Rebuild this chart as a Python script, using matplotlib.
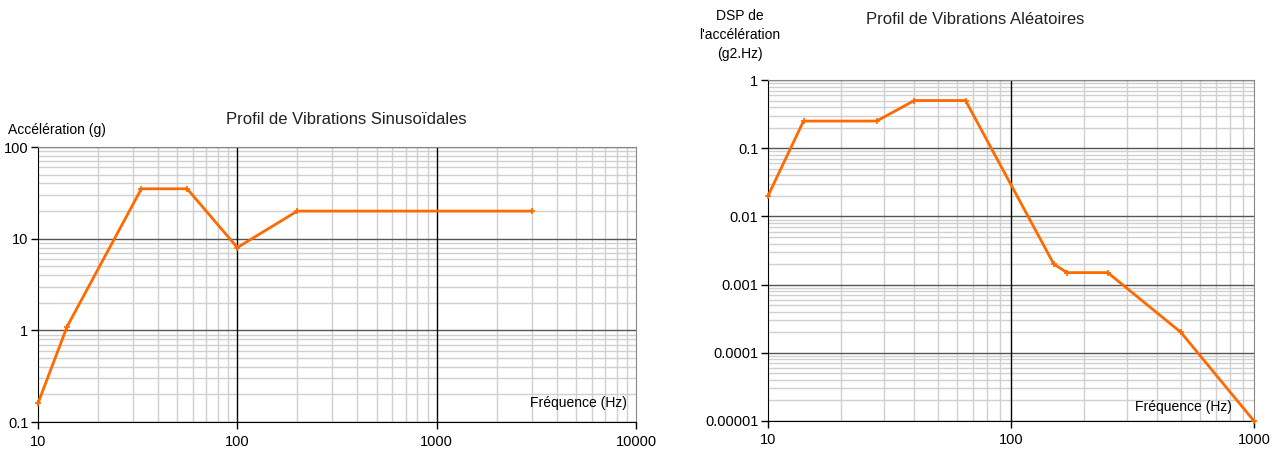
import matplotlib
matplotlib.use("Agg")
import matplotlib.pyplot as plt
from matplotlib.ticker import LogLocator, FixedLocator, FixedFormatter, NullFormatter

plt.rcParams['font.family'] = ['Liberation Sans', 'DejaVu Sans']

# Sinusoidal profile
sin_freq = [10, 14, 33, 56, 100, 200, 3000]
sin_acc = [0.16, 1.1, 35, 35, 8, 20, 20]
sin_xticks = [10, 100, 1000, 10000]
sin_xlabels = ["10", "100", "1000", "10000"]
sin_yticks = [0.1, 1, 10, 100]
sin_ylabels = ["0.1", "1", "10", "100"]

# Random profile
rand_freq = [10, 14, 28, 40, 65, 150, 170, 250, 500, 1000]
rand_psd = [0.02, 0.25, 0.25, 0.5, 0.5, 0.002, 0.0015, 0.0015, 0.0002, 0.00001]
rand_xticks = [10, 100, 1000]
rand_xlabels = ["10", "100", "1000"]
rand_yticks = [0.00001, 0.0001, 0.001, 0.01, 0.1, 1]
rand_ylabels = ["0.00001", "0.0001", "0.001", "0.01", "0.1", "1"]

ORANGE = "#FF6A00"
W, H = 1275, 450
fig = plt.figure(figsize=(W / 100, H / 100), dpi=100)


def box(x0, y0, x1, y1):
    return [x0 / W, 1 - y1 / H, (x1 - x0) / W, (y1 - y0) / H]


def style(ax, xticks, xlabels, yticks, ylabels):
    ax.set_xscale('log')
    ax.set_yscale('log')
    ax.set_xlim(xticks[0], xticks[-1])
    ax.set_ylim(yticks[0], yticks[-1])
    ax.xaxis.set_major_locator(FixedLocator(xticks))
    ax.xaxis.set_major_formatter(FixedFormatter(xlabels))
    ax.yaxis.set_major_locator(FixedLocator(yticks))
    ax.yaxis.set_major_formatter(FixedFormatter(ylabels))
    ax.xaxis.set_minor_locator(LogLocator(base=10, subs=range(2, 10), numticks=20))
    ax.yaxis.set_minor_locator(LogLocator(base=10, subs=range(2, 10), numticks=20))
    ax.xaxis.set_minor_formatter(NullFormatter())
    ax.yaxis.set_minor_formatter(NullFormatter())
    ax.grid(which='minor', axis='both', color='#d0d0d0', lw=1.0)
    ax.grid(which='major', axis='y', color='#555555', lw=1.0)
    for xt in xticks[1:-1]:
        ax.axvline(xt, color='black', lw=1.0, zorder=1)
    ax.tick_params(which='minor', length=0)
    ax.tick_params(which='major', axis='y', length=5, width=1, direction='out',
                   labelsize=10.5, pad=2, color='black')
    ax.tick_params(which='major', axis='x', length=5, width=1, direction='out',
                   labelsize=10.5, pad=4, color='black')
    for s in ('top', 'right'):
        ax.spines[s].set_color('#888888')
    for s in ('left', 'bottom'):
        ax.spines[s].set_color('black')
    ax.set_axisbelow(True)


ax1 = fig.add_axes(box(38, 147, 636, 422))
style(ax1, sin_xticks, sin_xlabels, sin_yticks, sin_ylabels)
ax1.plot(sin_freq, sin_acc, color=ORANGE, lw=2, marker='+', ms=4, mew=1.2,
         clip_on=False, zorder=3)
ax1.text(0.985, 0.045, "Fréquence (Hz)", transform=ax1.transAxes, ha='right',
         va='bottom', fontsize=10)
fig.text(346 / W, 1 - 120 / H, "Profil de Vibrations Sinusoïdales", ha='center',
         va='center', fontsize=12, color='#222222')
fig.text(8 / W, 1 - 130 / H, "Accélération (g)", ha='left', va='center', fontsize=10)

ax2 = fig.add_axes(box(768, 80, 1254, 421))
style(ax2, rand_xticks, rand_xlabels, rand_yticks, rand_ylabels)
ax2.plot(rand_freq, rand_psd, color=ORANGE, lw=2, marker='+', ms=4, mew=1.2,
         clip_on=False, zorder=3)
ax2.text(0.955, 0.02, "Fréquence (Hz)", transform=ax2.transAxes, ha='right',
         va='bottom', fontsize=10)
fig.text(975 / W, 1 - 20 / H, "Profil de Vibrations Aléatoires", ha='center',
         va='center', fontsize=12, color='#222222')
fig.text(740 / W, 1 - 35 / H, "DSP de\nl'accélération\n(g2.Hz)", ha='center',
         va='center', fontsize=10, linespacing=1.45)

fig.savefig("out.png", dpi=100)
